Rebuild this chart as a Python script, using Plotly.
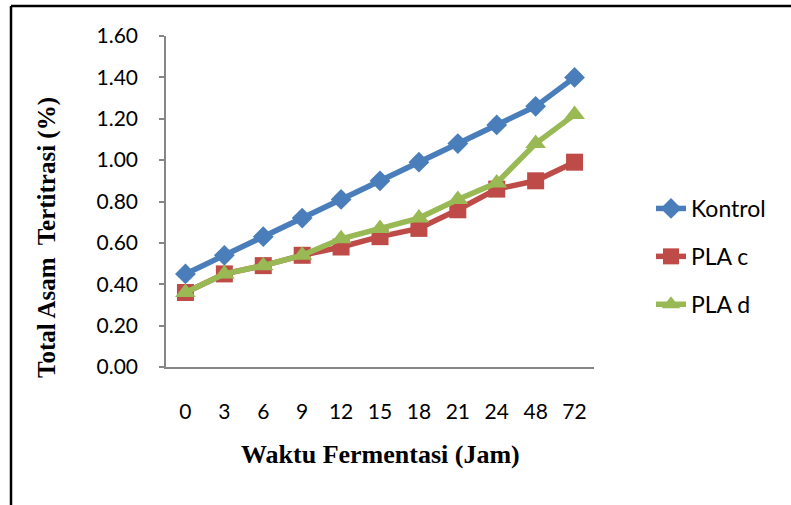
import plotly.graph_objects as go

hours = ["0", "3", "6", "9", "12", "15", "18", "21", "24", "48", "72"]
kontrol = [0.45, 0.54, 0.63, 0.72, 0.81, 0.90, 0.99, 1.08, 1.17, 1.26, 1.40]
pla_c = [0.36, 0.45, 0.49, 0.54, 0.58, 0.63, 0.67, 0.76, 0.86, 0.90, 0.99]
pla_d = [0.36, 0.45, 0.49, 0.54, 0.62, 0.67, 0.72, 0.81, 0.89, 1.08, 1.22]
y_ticks = [0.0, 0.2, 0.4, 0.6, 0.8, 1.0, 1.2, 1.4, 1.6]

W, H = 791, 505
L, R, T, B = 166, 197, 36, 138
pw, ph = W - L - R, H - T - B

def px(x):
    return (x - L) / pw

def py(y):
    return (H - B - y) / ph

fig = go.Figure()
series = [
    ("Kontrol", kontrol, "#4A7EBB", "diamond", 16),
    ("PLA c", pla_c, "#BE4B48", "square", 17),
    ("PLA d", pla_d, "#98B954", "triangle-up", 18),
]
for name, vals, col, sym, size in series:
    fig.add_trace(go.Scatter(
        x=hours, y=vals, name=name, mode="lines+markers",
        line=dict(color=col, width=5.5),
        marker=dict(symbol=sym, size=size, color=col),
        legendgroup=name,
    ))

fig.update_layout(
    width=W, height=H,
    margin=dict(l=L, r=R, t=T, b=B),
    paper_bgcolor="white", plot_bgcolor="white",
    font=dict(family="Lato", color="black", size=21),
    showlegend=True,
    legend=dict(
        x=px(651), y=py(187), xanchor="left", yanchor="top",
        font=dict(family="Lato", size=23, color="black"),
        tracegroupgap=15, itemwidth=30, bgcolor="rgba(0,0,0,0)",
    ),
    xaxis=dict(
        type="category", range=[-0.5, 10.5],
        showline=True, linecolor="#868686", linewidth=1.5,
        showgrid=False, ticks="", zeroline=False,
        tickfont=dict(family="Lato", size=21),
        ticklabelstandoff=25,
    ),
    yaxis=dict(
        range=[0, 1.6], tickvals=y_ticks, tickformat=".2f",
        showline=True, linecolor="#868686", linewidth=1.5,
        ticks="outside", ticklen=5, tickcolor="#868686", tickwidth=1.5,
        showgrid=False, zeroline=False,
        tickfont=dict(family="Lato", size=21),
        ticklabelstandoff=17,
    ),
    annotations=[
        dict(text="<b>Waktu Fermentasi (Jam)</b>", xref="paper", yref="paper",
             x=0.5, y=py(454), xanchor="center", yanchor="middle", showarrow=False,
             font=dict(family="Liberation Serif", size=26, color="black")),
        dict(text="<b>Total Asam  Tertitrasi (%)</b>", xref="paper", yref="paper",
             x=px(47), y=py(238), xanchor="center", yanchor="middle", showarrow=False,
             textangle=-90,
             font=dict(family="Liberation Serif", size=25, color="black")),
    ],
    shapes=[
        dict(type="line", xref="paper", yref="paper", x0=px(11), x1=px(800),
             y0=py(6), y1=py(6), line=dict(color="black", width=2.5)),
        dict(type="line", xref="paper", yref="paper", x0=px(11), x1=px(11),
             y0=py(6), y1=py(520), line=dict(color="black", width=2.5)),
    ],
)

fig.write_html("out.html")
